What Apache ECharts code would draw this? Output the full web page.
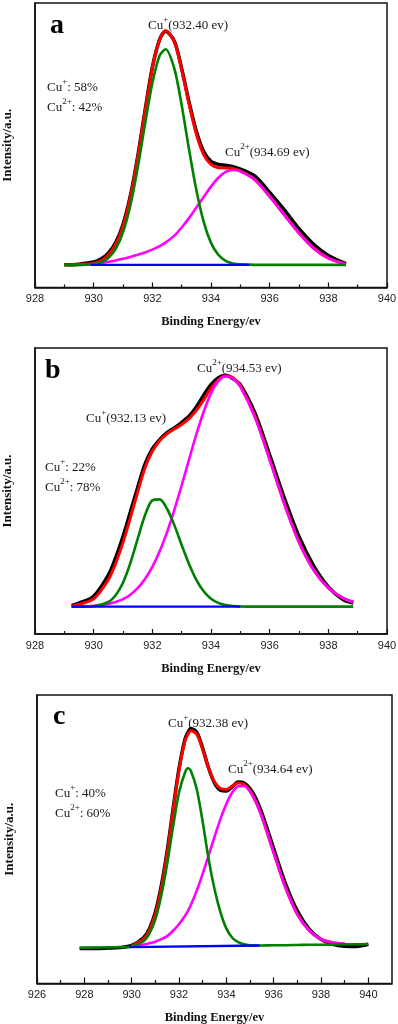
<!DOCTYPE html>
<html><head><meta charset="utf-8">
<script src="https://cdn.jsdelivr.net/npm/echarts@6/dist/echarts.min.js"></script>
<style>html,body{margin:0;padding:0;background:#fff}#chart{width:398px;height:1024px}</style>
</head><body><div id="chart"></div>
<script>
// ---------- Panel a ----------
const energyA = [929.0, 929.5, 930.0, 930.25, 930.5, 930.75, 931.0, 931.25, 931.5, 931.75, 932.0, 932.25, 932.45, 932.75, 933.0, 933.25, 933.5, 933.75, 934.0, 934.25, 934.5, 934.75, 935.0, 935.5, 936.0, 936.5, 937.0, 937.5, 938.0, 938.6];
const rawA    = [0, 0.3, 1.2, 2.5, 5.0, 9.5, 17.3, 29.5, 46.3, 66.0, 84.5, 96.5, 100.0, 95.8, 84.0, 69.8, 57.2, 48.5, 44.3, 43.0, 42.6, 42.0, 41.0, 38.0, 31.0, 23.5, 15.5, 8.8, 4.0, 0.5];
const envA    = [0, 0.1, 0.7, 1.8, 4.2, 8.7, 16.5, 28.8, 45.8, 65.5, 84.3, 96.5, 100.2, 95.5, 83.5, 69.0, 56.0, 47.2, 43.0, 41.6, 41.5, 41.2, 40.2, 36.4, 29.3, 21.4, 13.6, 7.1, 2.9, 0.3];
const cu1A    = [0, 0, 0.4, 1.1, 2.9, 6.8, 13.9, 25.4, 41.5, 60.2, 77.8, 89.6, 92.3, 84.0, 68.3, 49.5, 32.0, 18.4, 9.4, 4.3, 1.7, 0.6, 0.2, 0, 0, 0, 0, 0, 0, 0];
const cu2A    = [null, 0, 0.3, 0.7, 1.3, 1.9, 2.6, 3.4, 4.3, 5.3, 6.5, 8.0, 9.5, 12.5, 16.0, 20.0, 24.5, 29.0, 33.5, 37.3, 39.8, 40.6, 40.0, 36.4, 29.3, 21.4, 13.6, 7.1, 2.9, 0.3];
const bgEnergyA = [929.9, 935.3];
const bgA       = [0, 0];

// ---------- Panel b ----------
const energyB = [929.25, 929.5, 930.0, 930.5, 930.75, 931.0, 931.25, 931.5, 931.75, 932.0, 932.25, 932.5, 932.75, 933.0, 933.25, 933.5, 933.75, 934.0, 934.25, 934.5, 934.75, 935.0, 935.5, 936.0, 936.5, 937.0, 937.5, 938.0, 938.5, 938.85];
const rawB    = [0.5, 1.5, 4.5, 13.5, 21.0, 30.0, 40.5, 51.0, 61.0, 67.5, 71.5, 74.5, 76.5, 78.8, 81.5, 85.5, 90.5, 95.0, 98.0, 99.0, 97.5, 95.0, 82.8, 65.0, 46.5, 30.0, 17.5, 8.5, 3.0, 1.5];
const envB    = [0.3, 1.0, 3.3, 11.5, 18.5, 27.5, 38.0, 49.0, 59.5, 66.5, 71.0, 74.0, 76.0, 78.0, 80.5, 84.0, 88.5, 93.5, 97.0, 98.8, 98.0, 94.5, 81.5, 63.2, 44.2, 27.7, 15.7, 8.0, 3.7, 2.0];
const cu1B    = [0, 0, 0.2, 2.0, 4.9, 10.2, 18.6, 29.0, 39.1, 45.5, 45.9, 41.9, 34.9, 26.4, 18.3, 11.5, 6.6, 3.4, 1.6, 0.7, 0.3, 0.1, 0, 0, 0, 0, 0, 0, 0, 0];
const cu2B    = [0, 0.1, 0.4, 1.1, 2.0, 3.2, 5.1, 7.9, 11.8, 17.0, 23.7, 31.8, 41.4, 51.9, 62.9, 73.7, 83.4, 91.3, 96.5, 98.6, 97.6, 94.2, 81.0, 62.9, 44.0, 27.6, 15.7, 8.0, 3.7, 2.0];
const bgEnergyB = [929.25, 935.0];
const bgB       = [0, 0];

// ---------- Panel c ----------
const energyC = [927.8, 928.5, 929.0, 929.5, 930.0, 930.5, 930.75, 931.0, 931.25, 931.5, 931.75, 932.0, 932.25, 932.38, 932.5, 932.75, 933.0, 933.25, 933.5, 933.75, 934.0, 934.25, 934.5, 934.75, 935.0, 935.25, 935.5, 936.0, 936.5, 937.0, 937.5, 938.0, 938.5, 939.0, 939.5, 940.0];
const rawC    = [-0.3, -0.3, -0.1, 0.1, 1.0, 4.3, 8.2, 15.2, 26.5, 41.5, 59.5, 76.8, 89.3, 92.3, 94.0, 92.3, 85.5, 77.0, 70.6, 67.5, 67.2, 69.0, 71.0, 70.6, 68.2, 64.0, 57.8, 42.5, 27.5, 15.8, 8.0, 3.6, 1.5, 0.7, 0.6, 1.5];
const envC    = [null, null, null, null, 0.8, 3.8, 7.6, 14.4, 25.5, 40.5, 58.7, 76.0, 88.5, 91.5, 93.0, 91.5, 85.0, 76.9, 71.0, 68.2, 67.8, 69.3, 70.6, 70.0, 67.2, 62.5, 56.2, 40.8, 25.8, 14.4, 7.4, 3.7, 2.2, 1.7, null, null];
const cu1C    = [0, 0.1, 0.2, 0.2, 0.6, 2.8, 6.1, 12.2, 22.3, 36.0, 51.9, 66.5, 75.0, 76.9, 75.8, 67.9, 54.0, 38.1, 25.2, 15.3, 8.3, 4.3, 2.4, 1.5, 1.1, 1.0, 1.0, 1.1, 1.1, 1.2, 1.3, 1.3, 1.4, 1.5, 1.5, 1.6];
const cu2C    = [null, null, null, null, 0.5, 1.4, 1.9, 2.6, 3.7, 5.0, 7.3, 10.1, 13.6, 15.8, 18.3, 24.5, 31.7, 39.5, 47.5, 55.1, 61.6, 66.5, 69.2, 69.3, 67.0, 62.5, 56.2, 40.8, 25.8, 14.4, 7.4, 3.7, 2.2, 1.7, null, null];
const bgEnergyC = [929.9, 935.4];
const bgC       = [0.27, 0.98];

// ---------- Axis ticks / labels ----------
const labelsAB = [928, 930, 932, 934, 936, 938, 940];
const minorAB  = [929, 931, 933, 935, 937, 939];
const labelsC  = [926, 928, 930, 932, 934, 936, 938, 940];
const minorC   = [927, 929, 931, 933, 935, 937, 939];

// ---------- Texts ----------
const panelLetters = ['a', 'b', 'c'];
const peakTexts = [
  [['+', '(932.40 ev)'], ['2+', '(934.69 ev)']],
  [['2+', '(934.53 ev)'], ['+', '(932.13 ev)']],
  [['+', '(932.38 ev)'], ['2+', '(934.64 ev)']]
];
const ratioTexts = [
  [['+', ': 58%'], ['2+', ': 42%']],
  [['+', ': 22%'], ['2+', ': 78%']],
  [['+', ': 40%'], ['2+', ': 60%']]
];
const xTitle = 'Binding Energy/ev';
const yTitle = 'Intensity/a.u.';

function pairs(xs, ys) {
  return xs.map((x, i) => ys[i] == null ? null : [x, ys[i]]).filter(p => p);
}

// layout
const panels = [
  { grid: {left: 35, top: 3, width: 352, height: 284.5}, xr: [928, 940], yr: [-9.7, 112.1], labels: labelsAB, minor: minorAB, major: 5, minorLen: 3,
    data: [energyA, rawA, envA, cu2A, cu1A, bgEnergyA, bgA],
    letter: [50, 28], peaks: [[148, 25], [225, 152]], ratios: [[47, 87], [47, 107]] },
  { grid: {left: 35, top: 348, width: 352, height: 286}, xr: [928, 940], yr: [-11.7, 110.7], labels: labelsAB, minor: minorAB, major: 5, minorLen: 3,
    data: [energyB, rawB, envB, cu2B, cu1B, bgEnergyB, bgB],
    letter: [45, 373], peaks: [[197, 368], [86, 418]], ratios: [[45, 467], [45, 487]] },
  { grid: {left: 37, top: 695, width: 355, height: 288.5}, xr: [926, 941], yr: [-15.3, 108.3], labels: labelsC, minor: minorC, major: 6, minorLen: 3.5,
    data: [energyC, rawC, envC, cu2C, cu1C, bgEnergyC, bgC],
    letter: [53, 719], peaks: [[168, 723], [228, 769]], ratios: [[55, 793], [55, 813]] }
];

const grids = [], xAxes = [], yAxes = [], series = [], graphics = [];
const serif = 'Liberation Serif, Times New Roman, serif';
const richStyle = {
  n: { fontFamily: serif, fontSize: 13, fill: '#1a1a1a' },
  s: { fontFamily: serif, fontSize: 9, fill: '#1a1a1a', padding: [0, 0, 12, 0] }
};
function richText(x, y, sup, rest) {
  return { type: 'text', left: x, top: y - 10, style: {
    text: '{n|Cu}{s|' + sup + '}{n|' + rest + '}', rich: richStyle, fill: '#1a1a1a' } };
}

panels.forEach((p, i) => {
  grids.push(Object.assign({ show: true, borderColor: '#111', borderWidth: 1.5, backgroundColor: 'transparent',
    containLabel: false, outerBoundsMode: 'none' }, p.grid));
  xAxes.push({
    type: 'value', gridIndex: i, position: 'bottom', min: p.xr[0], max: p.xr[1], interval: 2,
    axisLine: { show: true, onZero: false, lineStyle: { color: '#111', width: 1.5 } },
    axisTick: { show: true, inside: true, length: p.major, customValues: p.labels, lineStyle: { color: '#111', width: 1.2 } },
    axisLabel: { show: true, customValues: p.labels, margin: 6, fontFamily: 'Liberation Sans, Arial, sans-serif', fontSize: 11, color: '#222' },
    splitLine: { show: false },
    name: xTitle, nameLocation: 'middle', nameGap: 28,
    nameTextStyle: { fontFamily: serif, fontWeight: 'bold', fontSize: 12.5, color: '#111' }
  });
  xAxes.push({
    type: 'value', gridIndex: i, position: 'bottom', min: p.xr[0], max: p.xr[1], interval: 2,
    axisLine: { show: false, onZero: false },
    axisTick: { show: true, inside: true, length: p.minorLen, customValues: p.minor, lineStyle: { color: '#111', width: 1.2 } },
    axisLabel: { show: false }, splitLine: { show: false }
  });
  yAxes.push({
    type: 'value', gridIndex: i, min: p.yr[0], max: p.yr[1],
    axisLine: { show: true, onZero: false, lineStyle: { color: '#111', width: 1.5 } },
    axisTick: { show: false }, axisLabel: { show: false }, splitLine: { show: false },
    name: yTitle, nameLocation: 'middle', nameGap: 21,
    nameTextStyle: { fontFamily: serif, fontWeight: 'bold', fontSize: 13, color: '#111' }
  });
  const [en, raw, env, cu2, cu1, bgE, bg] = p.data;
  const specs = [
    [raw, en, '#000000', 3.5],
    [env, en, '#ff0000', 3],
    [cu2, en, '#ff00ff', 2.6],
    [cu1, en, '#008000', 2.6],
    [bg, bgE, '#0000ff', 2.4]
  ];
  specs.forEach(([ys, xs, color, w], k) => {
    series.push({
      type: 'line', xAxisIndex: i * 2, yAxisIndex: i, data: pairs(xs, ys),
      showSymbol: false, smooth: 0.3, silent: true, z: 2 + k,
      lineStyle: { color: color, width: w }
    });
  });
  graphics.push({ type: 'text', left: p.letter[0], top: p.letter[1] - 16, style: {
    text: panelLetters[i], fontFamily: serif, fontWeight: 'bold', fontSize: 28, fill: '#000' } });
  p.peaks.forEach((pos, k) => graphics.push(richText(pos[0], pos[1], peakTexts[i][k][0], peakTexts[i][k][1])));
  p.ratios.forEach((pos, k) => graphics.push(richText(pos[0], pos[1], ratioTexts[i][k][0], ratioTexts[i][k][1])));
});

const chart = echarts.init(document.getElementById('chart'), null, { renderer: 'canvas' });
chart.setOption({
  animation: false,
  backgroundColor: '#ffffff',
  grid: grids, xAxis: xAxes, yAxis: yAxes, series: series, graphic: graphics
});
</script>
</body></html>
